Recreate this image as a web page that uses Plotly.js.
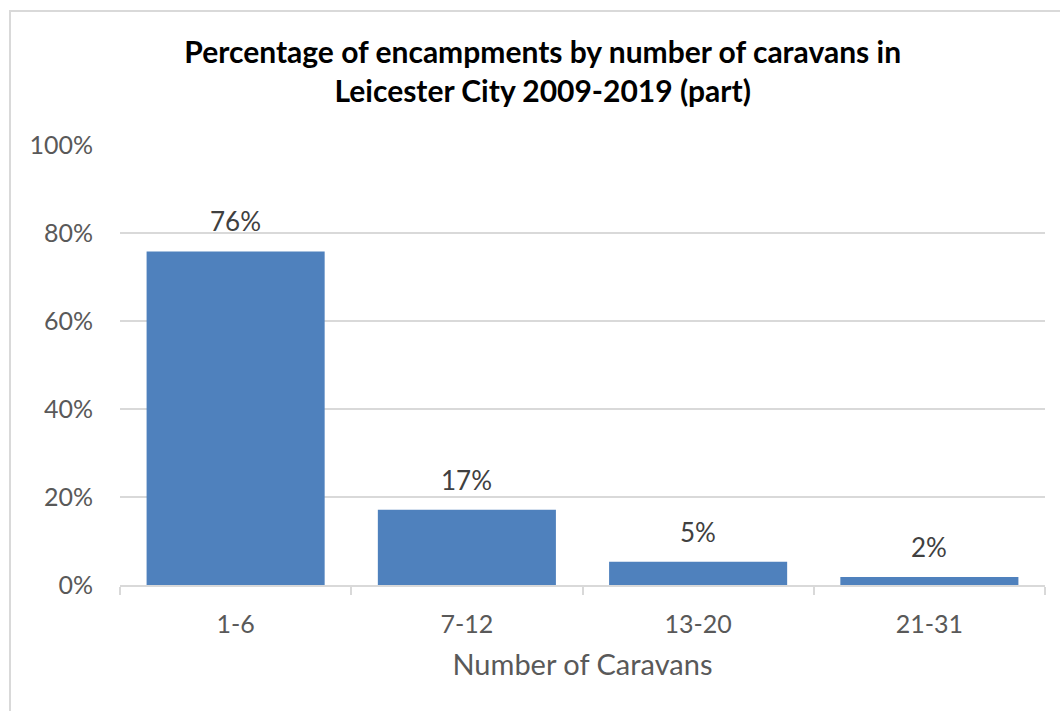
<!DOCTYPE html>
<html>
<head>
<meta charset="utf-8">
<script src="https://cdn.plot.ly/plotly-3.0.1.min.js"></script>
<style>
html,body{margin:0;padding:0;background:#fff;}
#frame{position:absolute;left:9px;top:10px;width:1060px;height:711px;border-left:2px solid #d9d9d9;border-top:2px solid #d9d9d9;}
#chart{position:absolute;left:0;top:0;width:1060px;height:711px;}
</style>
</head>
<body>
<div id="frame"></div>
<div id="chart"></div>
<script>
const categories = ["1-6", "7-12", "13-20", "21-31"];
const values = [0.758, 0.171, 0.053, 0.018];
const labels = ["76%", "17%", "5%", "2%"];
const yTicks = [0, 0.2, 0.4, 0.6, 0.8, 1.0];
const yTickText = ["0%", "20%", "40%", "60%", "80%", "100%"];

const FONT = "Lato, 'Open Sans', sans-serif";

const annotations = categories.map((c, i) => ({
  x: c, y: values[i], xref: "x", yref: "y",
  text: labels[i], showarrow: false,
  yanchor: "bottom", yshift: 12,
  font: {family: FONT, size: 26, color: "#404040"}
}));

Plotly.newPlot("chart", [{
  type: "bar",
  x: categories,
  y: values,
  marker: {color: "#4f81bd"},
  hoverinfo: "none"
}], {
  width: 1060, height: 711,
  margin: {l: 120, r: 15, t: 145, b: 126},
  paper_bgcolor: "rgba(0,0,0,0)",
  plot_bgcolor: "rgba(0,0,0,0)",
  bargap: 0.23,
  showlegend: false,
  annotations: annotations,
  title: {
    text: "<b>Percentage of encampments by number of caravans in<br>Leicester City 2009-2019 (part)</b>",
    font: {family: FONT, size: 30, color: "#000000"},
    x: 0.512, xanchor: "center", y: 0.911, yanchor: "middle"
  },
  xaxis: {
    type: "category",
    tickson: "boundaries",
    ticks: "outside", ticklen: 8, tickcolor: "#d9d9d9", tickwidth: 2,
    showline: true, linecolor: "#d9d9d9", linewidth: 2,
    tickfont: {family: FONT, size: 25, color: "#595959"},
    ticklabelstandoff: 16,
    title: {text: "Number of Caravans", font: {family: FONT, size: 29, color: "#595959"}, standoff: 18},
    showgrid: false
  },
  yaxis: {
    range: [0, 1],
    tickvals: yTicks, ticktext: yTickText,
    showgrid: true, gridcolor: "#d9d9d9", gridwidth: 2,
    zeroline: false, showline: false,
    ticks: "", ticklabelstandoff: 26,
    tickfont: {family: FONT, size: 25, color: "#595959"}
  }
}, {displayModeBar: false, staticPlot: true});
</script>
</body>
</html>
